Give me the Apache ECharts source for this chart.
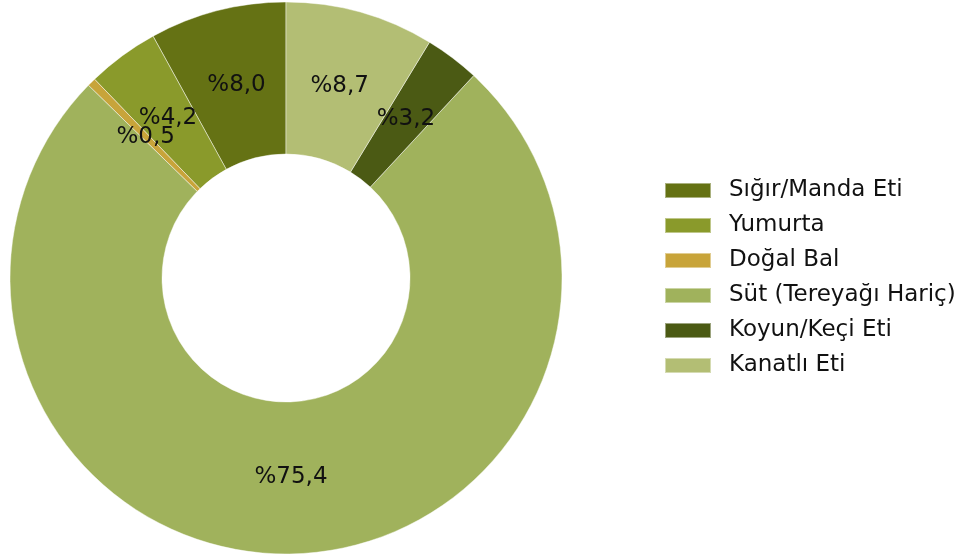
<!DOCTYPE html>
<html>
<head>
<meta charset="utf-8">
<script src="https://cdn.jsdelivr.net/npm/echarts@6/dist/echarts.min.js"></script>
<style>
html,body{margin:0;padding:0;background:#fff;}
#c{width:962px;height:555px;}
</style>
</head>
<body>
<div id="c"></div>
<script>
const categories = ['Sığır/Manda Eti', 'Yumurta', 'Doğal Bal', 'Süt (Tereyağı Hariç)', 'Koyun/Keçi Eti', 'Kanatlı Eti'];
const values = [8.0, 4.2, 0.5, 75.4, 3.2, 8.7];
const colors = ['#657214', '#8a9a2b', '#c8a43a', '#a0b25c', '#4b5a14', '#b3be74'];

const pieData = categories.map((n, i) => ({name: n, value: values[i]}));
const chart = echarts.init(document.getElementById('c'), null, {renderer: 'canvas'});
chart.setOption({
  animation: false,
  color: colors,
  legend: {
    orient: 'vertical',
    left: 659,
    top: 174,
    itemWidth: 46,
    itemHeight: 15,
    itemGap: 12,
    icon: 'rect',
    textStyle: {
      fontFamily: 'DejaVu Sans',
      fontSize: 23,
      color: '#111',
      lineHeight: 23,
      padding: [0, 0, 0, 13]
    },
    data: categories
  },
  series: [{
    type: 'pie',
    center: [286, 278],
    radius: [124, 276],
    startAngle: 90,
    clockwise: false,
    itemStyle: {
      borderColor: 'rgba(255,255,255,0.45)',
      borderWidth: 1
    },
    label: {show: false},
    labelLine: {show: false},
    emphasis: {disabled: true},
    data: pieData
  }, {
    type: 'pie',
    center: [286, 278],
    radius: [124, 268],
    startAngle: 90,
    clockwise: false,
    silent: true,
    avoidLabelOverlap: false,
    minShowLabelAngle: 0,
    labelLayout: {hideOverlap: false},
    itemStyle: {color: 'rgba(0,0,0,0)', borderWidth: 0},
    label: {
      show: true,
      position: 'inside',
      fontFamily: 'DejaVu Sans',
      fontSize: 23,
      color: '#111',
      overflow: 'none',
      formatter: p => '%' + p.value.toFixed(1).replace('.', ',')
    },
    labelLine: {show: false},
    emphasis: {disabled: true},
    data: pieData
  }]
});
</script>
</body>
</html>
